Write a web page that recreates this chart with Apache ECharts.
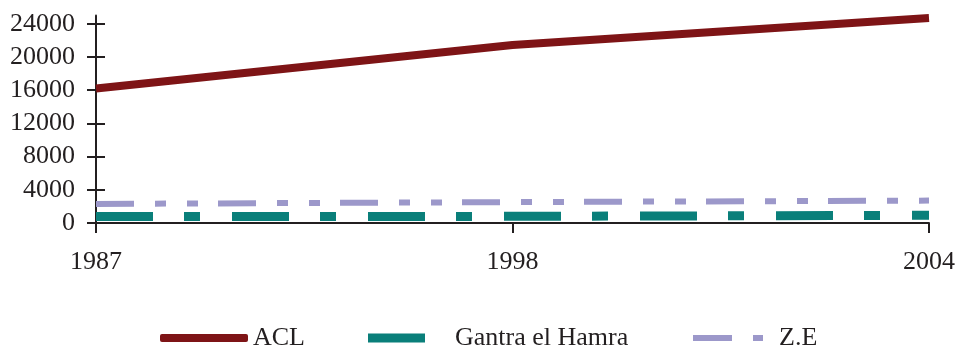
<!DOCTYPE html>
<html>
<head>
<meta charset="utf-8">
<script src="https://cdn.jsdelivr.net/npm/echarts@6/dist/echarts.min.js"></script>
<style>
  html, body { margin: 0; padding: 0; background: #fff; }
  #chart { width: 958px; height: 349px; }
</style>
</head>
<body>
<div id="chart"></div>
<script>
// Years on the horizontal axis
const years = ['1987', '1998', '2004'];

// Series values per year
const aclValues = [16200, 21450, 24700];
const gantraValues = [780, 800, 930];
const zeValues = [2300, 2520, 2700];

// Vertical tick positions
const yTicks = [0, 4000, 8000, 12000, 16000, 20000, 24000];

const ink = '#231f20';
const font = 'Liberation Serif';

const chart = echarts.init(document.getElementById('chart'), null, { renderer: 'canvas' });

const yCommon = {
  type: 'value',
  min: 0,
  max: 25000,
  interval: 4000,
  splitLine: { show: false }
};

function legendBlock(name, left, icon, w, h, gap) {
  return {
    data: [name],
    left: left,
    top: 325,
    padding: 0,
    icon: icon,
    itemWidth: w,
    itemHeight: h,
    selectedMode: false,
    textStyle: {
      fontFamily: font,
      fontSize: 26,
      color: ink,
      padding: [17, 0, 0, gap]
    }
  };
}

chart.setOption({
  animation: false,
  backgroundColor: '#fff',
  grid: { left: 96, right: 29, top: 15.5, bottom: 126 },
  legend: [
    legendBlock('ACL', 160, 'roundRect', 88, 8, 0),
    legendBlock('Gantra el Hamra', 368, 'rect', 57, 9, 25),
    legendBlock('Z.E', 693, 'path://M0,0H39V6H0Z M60,0H70V6H60Z', 70, 6, 11)
  ],
  xAxis: {
    type: 'category',
    data: years,
    boundaryGap: false,
    axisLine: { lineStyle: { color: ink, width: 2 } },
    axisTick: { show: true, inside: false, length: 10, lineStyle: { color: ink, width: 2 } },
    axisLabel: { fontFamily: font, fontSize: 26, color: ink, margin: 26 },
    splitLine: { show: false }
  },
  yAxis: [
    Object.assign({}, yCommon, {
      axisLine: { show: true, lineStyle: { color: ink, width: 2 } },
      axisTick: { show: true, inside: false, length: 9, customValues: yTicks, lineStyle: { color: ink, width: 2 } },
      axisLabel: {
        fontFamily: font, fontSize: 26, color: ink, margin: 21, customValues: yTicks,
        formatter: function (v) { return String(v); }
      }
    }),
    Object.assign({}, yCommon, {
      position: 'left',
      axisLine: { show: false },
      axisTick: { show: true, inside: true, length: 9, customValues: yTicks, lineStyle: { color: ink, width: 2 } },
      axisLabel: { show: false }
    })
  ],
  series: [
    {
      name: 'ACL',
      type: 'line',
      data: aclValues,
      symbol: 'none',
      color: '#7e1416',
      lineStyle: { color: '#7e1416', width: 8, cap: 'butt' },
      z: 3
    },
    {
      name: 'Gantra el Hamra',
      type: 'line',
      data: gantraValues,
      symbol: 'none',
      color: '#0a7f7a',
      lineStyle: { color: '#0a7f7a', width: 9, type: [57, 31, 16, 32], cap: 'butt' },
      z: 2
    },
    {
      name: 'Z.E',
      type: 'line',
      data: zeValues,
      symbol: 'none',
      color: '#9c98ca',
      lineStyle: { color: '#9c98ca', width: 6, type: [38, 21, 11, 21, 11, 20], cap: 'butt' },
      z: 2
    }
  ]
});
</script>
</body>
</html>
